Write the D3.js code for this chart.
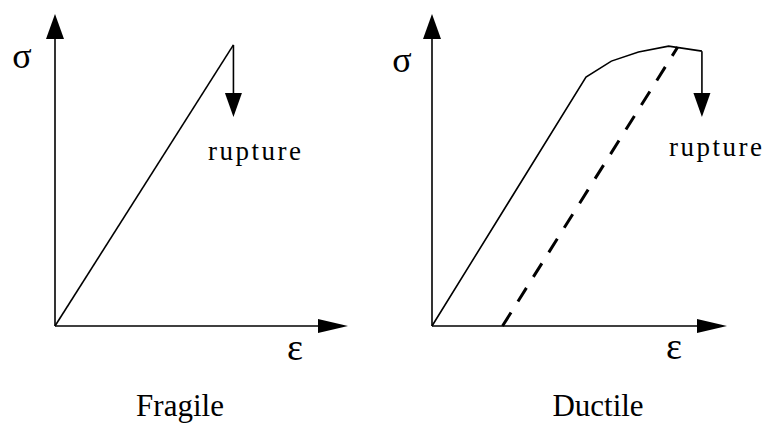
<!DOCTYPE html>
<html>
<head>
<meta charset="utf-8">
<script src="https://cdn.jsdelivr.net/npm/d3@7"></script>
<style>
  html, body { margin: 0; padding: 0; background: #fff; }
  svg { display: block; }
</style>
</head>
<body>
<svg id="chart" width="766" height="423"></svg>
<script>
// ---- data (unitless stress / strain, 0..100) ----
const panelTitles = ["Fragile", "Ductile"];
const axisLabels = { stress: "σ", strain: "ε" };
const ruptureLabel = "rupture";

const fragileStrain = [0, 60.9];
const fragileStress = [0, 90.1];

const ductileStrain = [0, 52.2, 60.8, 70.0, 80.2, 91.5];
const ductileStress = [0, 79.8, 84.9, 87.8, 89.7, 88.1];

const unloadStrain = [23.9, 83.3];
const unloadStress = [0, 89.4];

const fragileRuptureStress = [90.1, 67.0];
const ductileRuptureStress = [88.1, 67.0];

// ---- layout ----
const FONT = "'Liberation Serif', 'DejaVu Serif', 'Times New Roman', serif";
const svg = d3.select("#chart");
const W = 766, H = 423;
svg.append("rect").attr("width", W).attr("height", H).attr("fill", "#fff");

const y = d3.scaleLinear().domain([0, 100]).range([326, 14]);
const xLeft = d3.scaleLinear().domain([0, 100]).range([55, 348]);
const xRight = d3.scaleLinear().domain([0, 100]).range([432, 727]);

function zip(a, b) { return a.map((v, i) => [v, b[i]]); }

function addText(g, pos, size, str, anchor, spacing) {
  const t = g.append("text").attr("x", pos[0]).attr("y", pos[1])
    .attr("font-family", FONT).attr("font-size", size).attr("fill", "#000")
    .attr("text-anchor", anchor || "start").text(str);
  if (spacing) t.attr("letter-spacing", spacing);
  return t;
}

function drawPanel(x, opts) {
  const g = svg.append("g");
  const line = d3.line().x(d => x(d[0])).y(d => y(d[1]));

  // axes
  g.append("line").attr("x1", x(0)).attr("y1", y(0)).attr("x2", x(0)).attr("y2", y(100) + 20)
    .attr("stroke", "#000").attr("stroke-width", 1.6);
  g.append("path")
    .attr("d", `M${x(0)},${y(100)} L${x(0) - 9},${y(100) + 25} L${x(0) + 9},${y(100) + 25} Z`)
    .attr("fill", "#000");
  g.append("line").attr("x1", x(0)).attr("y1", y(0)).attr("x2", x(100) - 25).attr("y2", y(0))
    .attr("stroke", "#000").attr("stroke-width", 1.6);
  g.append("path")
    .attr("d", `M${x(100)},${y(0)} L${x(100) - 30},${y(0) - 7} L${x(100) - 30},${y(0) + 7} Z`)
    .attr("fill", "#000");

  // curves
  g.append("path").datum(zip(opts.strain, opts.stress)).attr("d", line)
    .attr("fill", "none").attr("stroke", "#000").attr("stroke-width", 1.6)
    .attr("stroke-linejoin", "miter");
  if (opts.unload) {
    g.append("path").datum(zip(opts.unload[0], opts.unload[1])).attr("d", line)
      .attr("fill", "none").attr("stroke", "#000").attr("stroke-width", 3)
      .attr("stroke-dasharray", "16,13");
  }

  // rupture arrow
  const rx = x(opts.strain[opts.strain.length - 1]);
  const r0 = y(opts.rupture[0]), r1 = y(opts.rupture[1]);
  g.append("line").attr("x1", rx).attr("y1", r0).attr("x2", rx).attr("y2", r1 - 20)
    .attr("stroke", "#000").attr("stroke-width", 1.6);
  g.append("path")
    .attr("d", `M${rx},${r1} L${rx - 8.5},${r1 - 24} L${rx + 8.5},${r1 - 24} Z`)
    .attr("fill", "#000");

  addText(g, opts.rupturePos, 27, ruptureLabel, "start", 2.5);

  // axis labels
  addText(g, opts.sigmaPos, 36, axisLabels.stress, "middle");
  addText(g, opts.epsPos, 38, axisLabels.strain, "middle");

  // title
  addText(g, opts.titlePos, 31, opts.title, "middle");
}

drawPanel(xLeft, {
  strain: fragileStrain, stress: fragileStress, rupture: fragileRuptureStress,
  rupturePos: [208, 160], sigmaPos: [22, 68], epsPos: [295, 360],
  titlePos: [180, 416], title: panelTitles[0]
});
drawPanel(xRight, {
  strain: ductileStrain, stress: ductileStress, rupture: ductileRuptureStress,
  unload: [unloadStrain, unloadStress],
  rupturePos: [669, 156], sigmaPos: [402, 72], epsPos: [674, 359],
  titlePos: [598, 416], title: panelTitles[1]
});
</script>
</body>
</html>
